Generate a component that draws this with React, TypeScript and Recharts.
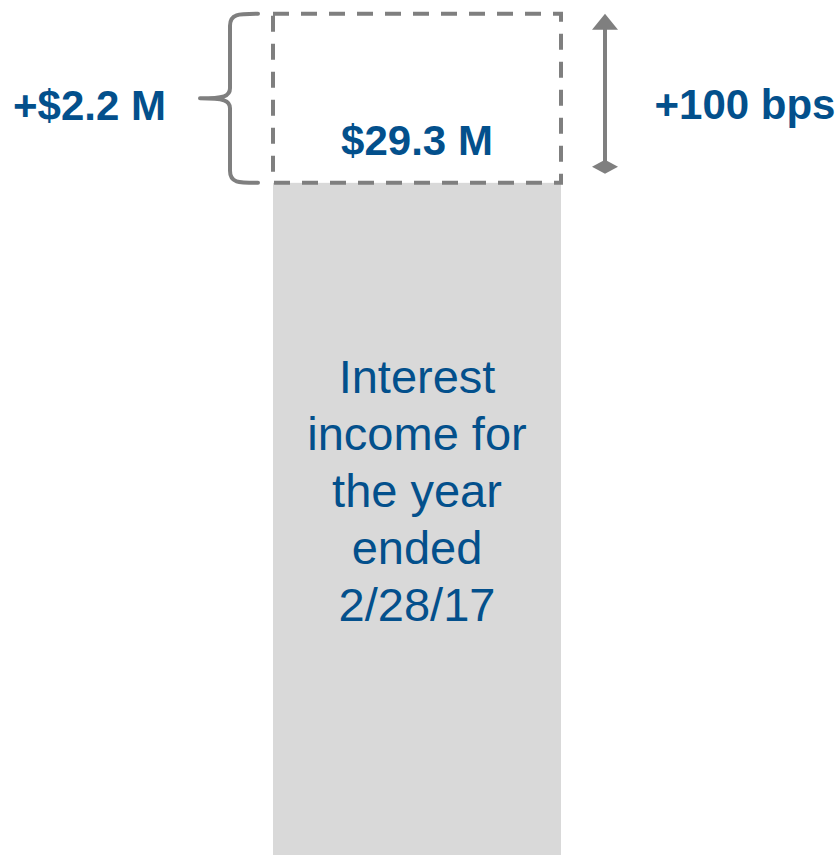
import React from 'react';
import { BarChart, Bar, XAxis, YAxis } from 'recharts';

const categories = ['Year ended 2/28/17'];
const baseIncome = [27.1];
const rateImpact = [2.2];
const rateShockLabels = ['+100 bps'];
const baseLabelLines = ['Interest', 'income for', 'the year', 'ended', '2/28/17'];
const yDomain: [number, number] = [18.35, 29.48];

const data = categories.map((c, i) => ({
  category: c,
  base: baseIncome[i],
  impact: rateImpact[i],
  shock: rateShockLabels[i],
}));

const BLUE = '#03508c';
const GREY = '#7f7f7f';
const BAR_FILL = '#d9d9d9';
const FONT = '"Liberation Sans", Arial, Helvetica, sans-serif';

const BaseShape = (props: any) => {
  const { x, y, width, height } = props;
  const cx = x + width / 2;
  return (
    <g>
      <rect x={x} y={y} width={width} height={height} fill={BAR_FILL} />
      <text textAnchor="middle" fontFamily={FONT} fontSize={47} fill={BLUE}>
        {baseLabelLines.map((l, i) => (
          <tspan key={i} x={cx} y={y + 210 + i * 57}>
            {l}
          </tspan>
        ))}
      </text>
    </g>
  );
};

const ImpactShape = (props: any) => {
  const { x, y, width, height, payload } = props;
  const midY = y + height / 2;
  const bottom = y + height;
  const bx = x - 43;
  const tipX = x - 73;
  const endX = x - 15;
  const ax = x + width + 44;
  const total = payload.base + payload.impact;
  const brace = [
    `M${endX},${y}`,
    `C${bx + 8},${y} ${bx},${y} ${bx},${y + 12}`,
    `L${bx},${midY - 10}`,
    `C${bx},${midY - 2} ${bx - 6},${midY} ${tipX},${midY}`,
    `C${bx - 6},${midY} ${bx},${midY + 2} ${bx},${midY + 10}`,
    `L${bx},${bottom - 12}`,
    `C${bx},${bottom} ${bx + 8},${bottom} ${endX},${bottom}`,
  ].join(' ');
  return (
    <g>
      <rect
        x={x}
        y={y}
        width={width}
        height={height}
        fill="none"
        stroke={GREY}
        strokeWidth={4}
        strokeDasharray="16 12"
      />
      <path d={brace} fill="none" stroke={GREY} strokeWidth={4} strokeLinecap="round" strokeLinejoin="round" />
      <line x1={ax} y1={y + 14} x2={ax} y2={bottom - 14} stroke={GREY} strokeWidth={4} />
      <path d={`M${ax},${y} L${ax + 13},${y + 16} L${ax - 13},${y + 16} Z`} fill={GREY} />
      <path
        d={`M${ax},${bottom - 23} L${ax + 13},${bottom - 16} L${ax},${bottom - 9} L${ax - 13},${bottom - 16} Z`}
        fill={GREY}
      />
      <text
        x={x - 183.5}
        y={midY + 21.5}
        textAnchor="middle"
        fontFamily={FONT}
        fontWeight="bold"
        fontSize={42}
        fill={BLUE}
      >
        {`+$${payload.impact.toFixed(1)} M`}
      </text>
      <text
        x={x + width + 184}
        y={midY + 20.5}
        textAnchor="middle"
        fontFamily={FONT}
        fontWeight="bold"
        fontSize={42}
        fill={BLUE}
      >
        {payload.shock}
      </text>
      <text
        x={x + width / 2}
        y={bottom - 28}
        textAnchor="middle"
        fontFamily={FONT}
        fontWeight="bold"
        fontSize={42}
        fill={BLUE}
      >
        {`$${total.toFixed(1)} M`}
      </text>
    </g>
  );
};

export default function App() {
  return (
    <div style={{ position: 'absolute', left: 0, top: 0, background: '#fff' }}>
      <BarChart
        width={840}
        height={855}
        data={data}
        margin={{ top: 0, right: 0, bottom: 0, left: 0 }}
        barCategoryGap={0}
      >
        <XAxis dataKey="category" hide padding={{ left: 273, right: 279 }} />
        <YAxis hide domain={yDomain} allowDataOverflow />
        <Bar dataKey="base" stackId="a" shape={BaseShape} isAnimationActive={false} />
        <Bar dataKey="impact" stackId="a" shape={ImpactShape} isAnimationActive={false} />
      </BarChart>
    </div>
  );
}
